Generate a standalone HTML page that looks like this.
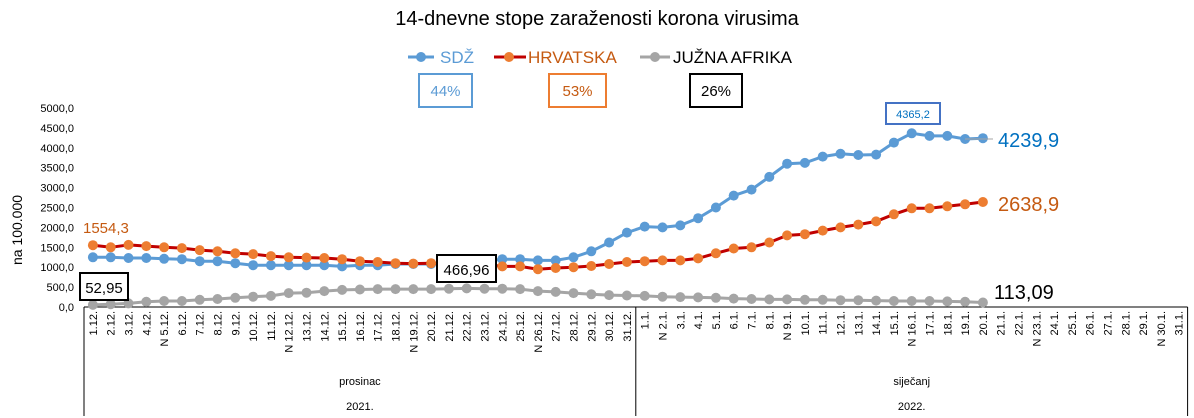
<!DOCTYPE html>
<html><head><meta charset="utf-8"><style>
body{margin:0;background:#fff;}
svg{display:block;font-family:"Liberation Sans",sans-serif;}
</style></head><body>
<svg id="c" width="1194" height="418" xmlns="http://www.w3.org/2000/svg"></svg>
<script>
const X0=84,STEP=17.8,Y0=307,PX=199/5000;
const blue=[1250,1250,1230,1230,1210,1200,1150,1150,1100,1050,1050,1050,1050,1050,1020,1050,1050,1080,1080,1080,1100,1120,1150,1200,1200,1170,1170,1250,1400,1620,1870,
2020,2000,2050,2230,2500,2800,2950,3270,3600,3620,3780,3850,3820,3830,4130,4365,4300,4300,4220,4240];
const orange=[1554,1500,1560,1530,1500,1480,1430,1400,1350,1330,1280,1250,1240,1230,1200,1150,1130,1100,1090,1100,1090,1080,1070,1020,1020,950,980,1000,1030,1080,1130,
1150,1170,1170,1220,1350,1470,1500,1620,1800,1830,1920,2000,2070,2150,2330,2480,2480,2530,2580,2639];
const gray=[53,70,90,130,150,150,180,200,230,260,280,350,360,400,430,440,450,450,450,450,460,467,460,460,450,400,380,350,320,300,290,
280,260,250,240,230,210,200,190,190,180,180,170,170,160,150,150,150,140,130,113];
let s='';
const cx=i=>X0+STEP*(i+0.5), cy=v=>Y0-v*PX;
s+='<text x="597" y="25" font-size="20" text-anchor="middle" fill="#000">14-dnevne stope zaraženosti korona virusima</text>';
s+='<line x1="408" y1="57" x2="434" y2="57" stroke="#5B9BD5" stroke-width="3"/><circle cx="421" cy="57" r="5" fill="#5B9BD5"/><text x="440" y="63" font-size="17" fill="#5B9BD5">SDŽ</text>';
s+='<line x1="494" y1="57" x2="526" y2="57" stroke="#C00000" stroke-width="3"/><circle cx="509" cy="57" r="5" fill="#ED7D31"/><text x="528" y="63" font-size="17" fill="#C55A11">HRVATSKA</text>';
s+='<line x1="640" y1="57" x2="670" y2="57" stroke="#A5A5A5" stroke-width="3"/><circle cx="655" cy="57" r="5" fill="#A5A5A5"/><text x="673" y="63" font-size="17" fill="#000">JUŽNA AFRIKA</text>';
s+='<rect x="419" y="74" width="53" height="33" fill="none" stroke="#5B9BD5" stroke-width="2"/><text x="445.5" y="96" font-size="15" text-anchor="middle" fill="#5B9BD5">44%</text>';
s+='<rect x="549" y="74" width="57" height="33" fill="none" stroke="#ED7D31" stroke-width="2"/><text x="577.5" y="96" font-size="15" text-anchor="middle" fill="#C55A11">53%</text>';
s+='<rect x="690" y="74" width="52" height="33" fill="none" stroke="#000" stroke-width="2"/><text x="716" y="96" font-size="15" text-anchor="middle" fill="#000">26%</text>';
for(let k=0;k<=10;k++){const v=k*500;s+=`<text x="74" y="${cy(v)+4}" font-size="11" text-anchor="end" fill="#000">${v.toFixed(1).replace('.',',')}</text>`;}
s+='<text transform="translate(22,230) rotate(-90)" font-size="14" text-anchor="middle" fill="#000">na 100.000</text>';
const XE=X0+62*STEP, XD=X0+31*STEP;
s+=`<line x1="${X0}" y1="${Y0}" x2="${XE}" y2="${Y0}" stroke="#000" stroke-width="1"/>`;
[X0,XD,XE].forEach(x=>s+=`<line x1="${x}" y1="${Y0}" x2="${x}" y2="416" stroke="#000" stroke-width="1"/>`);
const sundays=[5,12,19,26,33,40,47,54,61];
for(let i=0;i<62;i++){
 const d=i<31?(i+1)+'.12.':(i-30)+'.1.';
 const lab=(sundays.includes(i+1)?'N ':'')+d;
 s+=`<text transform="translate(${cx(i)+4},311) rotate(-90)" font-size="11" text-anchor="end" fill="#000">${lab}</text>`;
}
s+=`<text x="${(X0+XD)/2}" y="385" font-size="11" text-anchor="middle">prosinac</text><text x="${(X0+XD)/2}" y="410" font-size="11" text-anchor="middle">2021.</text>`;
s+=`<text x="${(XD+XE)/2}" y="385" font-size="11" text-anchor="middle">siječanj</text><text x="${(XD+XE)/2}" y="410" font-size="11" text-anchor="middle">2022.</text>`;
function series(d,lc,mc){
 let p=d.map((v,i)=>cx(i).toFixed(1)+','+cy(v).toFixed(1)).join(' ');
 let o=`<polyline points="${p}" fill="none" stroke="${lc}" stroke-width="3"/>`;
 d.forEach((v,i)=>o+=`<circle cx="${cx(i).toFixed(1)}" cy="${cy(v).toFixed(1)}" r="5" fill="${mc}"/>`);
 return o;
}
s+=series(gray,'#A5A5A5','#A5A5A5');
s+=series(blue,'#5B9BD5','#5B9BD5');
s+=series(orange,'#C00000','#ED7D31');
s+='<text x="83" y="233" font-size="15" fill="#C55A11">1554,3</text>';
s+='<rect x="80" y="273" width="48" height="27" fill="#fff" stroke="#000" stroke-width="2"/><text x="104" y="293" font-size="15" text-anchor="middle">52,95</text>';
s+='<rect x="437" y="255" width="59" height="27" fill="#fff" stroke="#000" stroke-width="2"/><text x="466.5" y="275" font-size="15" text-anchor="middle">466,96</text>';
s+='<rect x="886" y="103" width="54" height="21" fill="#fff" stroke="#4472C4" stroke-width="2"/><text x="913" y="118" font-size="11" text-anchor="middle" fill="#0070C0">4365,2</text>';
s+='<line x1="965" y1="139" x2="993" y2="139" stroke="#A5A5A5" stroke-width="1"/>';
s+='<text x="998" y="147" font-size="20" fill="#0070C0">4239,9</text>';
s+='<text x="998" y="211" font-size="20" fill="#C55A11">2638,9</text>';
s+='<text x="994" y="299" font-size="20" fill="#000">113,09</text>';
document.getElementById('c').innerHTML=s;
</script>
</body></html>
